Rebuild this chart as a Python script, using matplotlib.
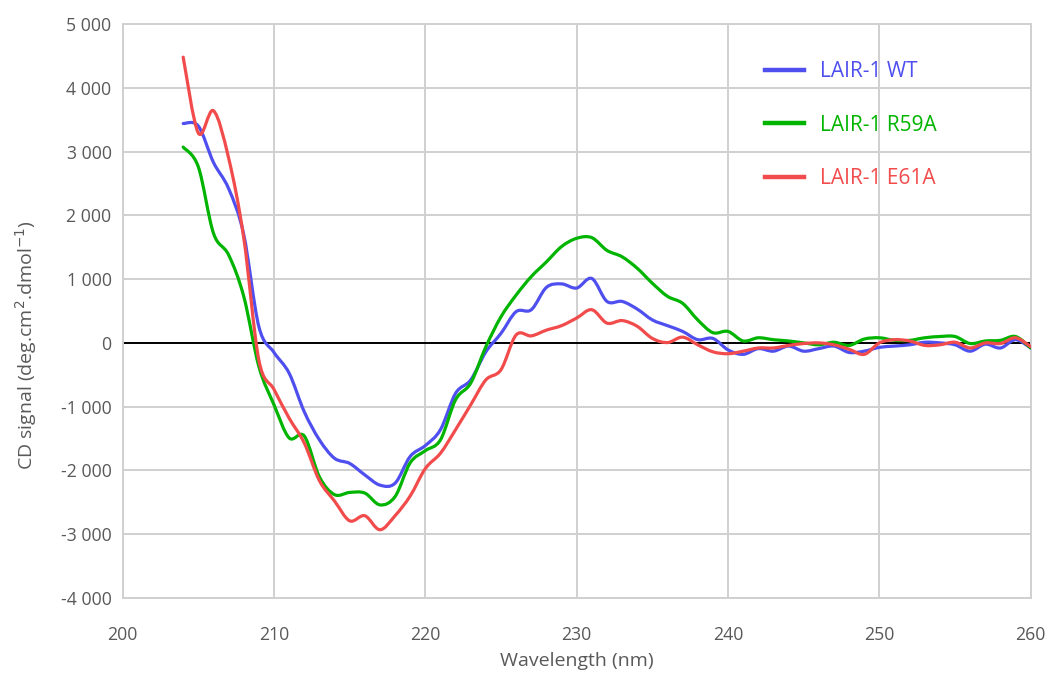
import matplotlib

matplotlib.use("Agg")
import matplotlib.pyplot as plt
import numpy as np
from matplotlib.lines import Line2D
from matplotlib.patches import PathPatch
from matplotlib.path import Path
from matplotlib.ticker import FuncFormatter, MultipleLocator

plt.rcParams["font.family"] = ["Open Sans", "DejaVu Sans"]

# wavelength in nm, 1 nm steps
wavelength = list(range(204, 261))

# mean residue ellipticity
wt = [3440, 3400, 2830, 2420, 1700, 255, -150, -475, -1080, -1520,
      -1810, -1890, -2070, -2230, -2200, -1780, -1610, -1360, -790, -580,
      -140, 150, 490, 520, 870, 925, 860, 1010, 650, 650,
      530, 360, 270, 180, 50, 70, -110, -180, -90, -130,
      -50, -130, -90, -50, -150, -130, -70, -50, -30, 10,
      0, -30, -130, -20, -80, 50, -80]
r59a = [3070, 2760, 1720, 1380, 730, -370, -970, -1490, -1460, -2100,
        -2380, -2345, -2355, -2540, -2410, -1880, -1690, -1520, -890, -630,
        -60, 410, 750, 1040, 1270, 1510, 1640, 1650, 1450, 1350,
        1170, 935, 730, 620, 360, 160, 180, 30, 80, 50,
        30, 0, -30, 10, -40, 60, 80, 40, 40, 80,
        100, 100, -10, 30, 40, 100, -80]
e61a = [4480, 3290, 3640, 2900, 1650, -270, -730, -1180, -1570, -2160,
        -2480, -2790, -2710, -2930, -2710, -2400, -1970, -1730, -1360, -970,
        -580, -420, 125, 110, 200, 270, 390, 520, 310, 350,
        260, 70, 5, 90, -30, -140, -170, -130, -80, -80,
        -40, -10, 0, -30, -100, -180, 0, 50, 30, -40,
        -30, 10, -80, 0, -10, 80, -60]

series = [
    ("LAIR-1 WT", wt, "#4F4FEF"),
    ("LAIR-1 R59A", r59a, "#00B400"),
    ("LAIR-1 E61A", e61a, "#F24B4B"),
]

GRID = "#D0D0D0"
TEXT = "#595959"


def smooth_path(x, y):
    """Bezier path through the points, like a spreadsheet 'smoothed line'."""
    pts = np.column_stack([x, y]).astype(float)
    ext = np.vstack([pts[0], pts, pts[-1]])
    verts = [pts[0]]
    codes = [Path.MOVETO]
    for i in range(1, len(ext) - 2):
        p0, p1, p2, p3 = ext[i - 1], ext[i], ext[i + 1], ext[i + 2]
        verts += [p1 + (p2 - p0) / 6, p2 - (p3 - p1) / 6, p2]
        codes += [Path.CURVE4] * 3
    return Path(verts, codes)


fig = plt.figure(figsize=(10.51, 6.8), dpi=100)
ax = fig.add_axes([0.1167, 0.1206, 0.8640, 0.8441])

handles = []
for label, vals, color in series:
    ax.add_patch(PathPatch(smooth_path(wavelength, vals), facecolor="none",
                           edgecolor=color, lw=2.3, capstyle="round",
                           joinstyle="round", zorder=3))
    handles.append(Line2D([], [], color=color, lw=3.2, label=label))

ax.axhline(0, color="black", lw=1.4, zorder=2)

ax.set_xlim(200, 260)
ax.set_ylim(-4000, 5000)
ax.xaxis.set_major_locator(MultipleLocator(10))
ax.yaxis.set_major_locator(MultipleLocator(1000))
ax.yaxis.set_major_formatter(
    FuncFormatter(lambda v, _: f"{int(round(v)):,}".replace(",", " ")))
ax.grid(True, color=GRID, lw=1.4, zorder=0)
for s in ax.spines.values():
    s.set_color(GRID)
    s.set_linewidth(1.4)
ax.tick_params(length=0, labelsize=12.7, labelcolor=TEXT)
ax.tick_params(axis="x", pad=20)
ax.tick_params(axis="y", pad=8)

ax.set_xlabel("Wavelength (nm)", fontsize=14, color=TEXT, labelpad=6)
ax.set_ylabel(r"CD signal (deg.cm$^{2}$.dmol$^{-1}$)", fontsize=14,
              color=TEXT)
ax.yaxis.set_label_coords(-0.092, 0.44)

leg = ax.legend(handles=handles, loc="upper left", bbox_to_anchor=(0.707, 0.935),
                frameon=False, fontsize=15, labelcolor="linecolor",
                handlelength=1.9, handletextpad=0.75, labelspacing=1.55,
                borderpad=0, borderaxespad=0)

fig.savefig("out.png", dpi=100)
plt.close(fig)
